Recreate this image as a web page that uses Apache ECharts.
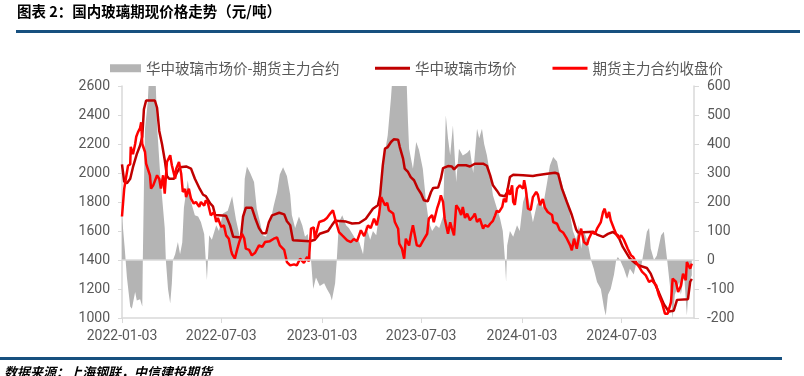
<!DOCTYPE html>
<html>
<head>
<meta charset="utf-8">
<script src="https://cdn.jsdelivr.net/npm/echarts@6/dist/echarts.min.js"></script>
<style>
  html, body { margin: 0; padding: 0; background: #fff; }
  #chart { width: 804px; height: 376px; }
</style>
</head>
<body>
<div id="chart"></div>
<script>
// 横轴用“距 2022-01-03 的天数”
const xTickDays = [0, 181, 365, 546, 730, 912]
const xTickLabels = ['2022-01-03', '2022-07-03', '2023-01-03', '2023-07-03', '2024-01-03', '2024-07-03']

// 华中玻璃市场价（左轴）
const spotDay = [0, 4, 9, 15, 20, 27, 33, 37, 40, 44, 60, 64, 68, 73, 78, 82, 86, 95, 100, 106, 117, 126, 133, 142, 148, 153, 161, 166, 170, 190, 197, 203, 217, 221, 226, 237, 243, 250, 256, 263, 268, 274, 287, 296, 301, 307, 312, 343, 352, 361, 376, 383, 389, 409, 420, 433, 445, 458, 467, 471, 476, 480, 485, 491, 496, 504, 507, 513, 516, 522, 527, 533, 540, 546, 551, 558, 564, 568, 577, 582, 586, 595, 602, 606, 613, 628, 635, 644, 659, 666, 672, 677, 684, 690, 699, 703, 708, 714, 732, 750, 757, 776, 790, 796, 803, 812, 821, 829, 832, 860, 867, 878, 887, 896, 905, 914, 927, 936, 945, 958, 965, 971, 980, 989, 998, 1007, 1013, 1033, 1037, 1040]
const spotPrice = [2060, 1940, 1930, 1960, 2040, 2130, 2190, 2250, 2440, 2500, 2500, 2450, 2290, 2200, 2090, 1980, 1960, 1960, 2000, 2040, 2045, 2030, 1960, 1890, 1850, 1840, 1790, 1770, 1710, 1705, 1640, 1560, 1555, 1700, 1760, 1760, 1690, 1620, 1585, 1585, 1660, 1708, 1726, 1715, 1667, 1640, 1536, 1529, 1540, 1581, 1600, 1639, 1670, 1665, 1652, 1655, 1685, 1754, 1777, 1846, 2053, 2168, 2179, 2214, 2232, 2230, 2179, 2099, 2030, 2007, 1972, 1950, 1892, 1857, 1812, 1805, 1869, 1897, 1900, 1961, 2034, 2048, 2045, 2025, 2053, 2053, 2045, 2064, 2064, 2050, 1984, 1915, 1880, 1846, 1840, 1869, 1972, 1988, 1985, 1980, 1985, 1995, 2002, 1995, 1892, 1800, 1710, 1610, 1590, 1595, 1575, 1559, 1580, 1593, 1570, 1490, 1410, 1380, 1360, 1345, 1306, 1250, 1175, 1095, 1045, 1050, 1125, 1130, 1250, 1270]

// 期货主力合约收盘价（左轴）
const futDay = [0, 4, 7, 11, 15, 16, 20, 24, 26, 29, 33, 35, 37, 42, 44, 51, 53, 57, 60, 64, 68, 71, 75, 78, 82, 88, 91, 97, 99, 104, 108, 111, 115, 117, 122, 126, 131, 135, 141, 144, 150, 153, 157, 162, 168, 172, 175, 181, 186, 190, 195, 199, 201, 206, 210, 214, 219, 223, 226, 232, 237, 243, 250, 256, 261, 270, 277, 283, 288, 296, 301, 307, 314, 319, 325, 332, 338, 341, 345, 350, 352, 360, 369, 374, 380, 385, 389, 396, 402, 411, 418, 423, 429, 436, 442, 449, 454, 460, 465, 469, 473, 476, 480, 484, 487, 495, 498, 504, 506, 511, 515, 518, 524, 527, 531, 533, 538, 544, 549, 557, 560, 566, 569, 575, 579, 582, 586, 589, 595, 599, 602, 606, 610, 615, 619, 622, 626, 630, 635, 641, 644, 648, 653, 659, 662, 668, 672, 677, 681, 684, 688, 694, 697, 701, 704, 708, 712, 714, 717, 721, 726, 732, 734, 737, 741, 746, 750, 756, 759, 763, 768, 772, 777, 785, 787, 794, 799, 805, 812, 818, 821, 825, 830, 834, 838, 843, 849, 852, 858, 863, 867, 874, 878, 881, 885, 889, 892, 898, 903, 907, 911, 916, 920, 923, 929, 933, 938, 944, 949, 956, 962, 967, 975, 980, 986, 991, 996, 1002, 1005, 1011, 1015, 1020, 1024, 1029, 1031, 1037, 1040]
const futPrice = [1700, 1890, 1960, 2050, 2060, 2180, 2130, 2200, 2250, 2280, 2310, 2350, 2200, 2145, 2064, 1984, 1892, 1915, 1905, 1984, 1960, 1892, 1984, 1857, 2076, 2122, 2053, 1961, 2030, 2076, 1995, 1869, 1890, 1834, 1892, 1823, 1789, 1800, 1766, 1800, 1775, 1812, 1790, 1708, 1731, 1662, 1690, 1628, 1640, 1570, 1547, 1467, 1440, 1409, 1470, 1524, 1581, 1550, 1478, 1470, 1432, 1450, 1501, 1490, 1524, 1530, 1547, 1555, 1501, 1470, 1386, 1363, 1370, 1363, 1409, 1380, 1421, 1390, 1616, 1625, 1547, 1662, 1674, 1690, 1720, 1743, 1685, 1593, 1570, 1536, 1524, 1545, 1530, 1605, 1565, 1639, 1620, 1685, 1640, 1708, 1834, 1846, 1777, 1795, 1743, 1720, 1662, 1616, 1513, 1478, 1409, 1547, 1500, 1570, 1639, 1600, 1501, 1495, 1530, 1581, 1685, 1710, 1660, 1754, 1800, 1846, 1800, 1685, 1581, 1660, 1620, 1570, 1777, 1750, 1710, 1766, 1690, 1720, 1674, 1700, 1720, 1662, 1685, 1616, 1640, 1630, 1650, 1670, 1708, 1740, 1730, 1766, 1823, 1800, 1892, 1850, 1915, 1800, 1780, 1892, 1915, 1892, 1950, 1890, 1754, 1745, 1834, 1869, 1850, 1777, 1820, 1760, 1731, 1710, 1662, 1650, 1605, 1590, 1547, 1501, 1467, 1547, 1478, 1560, 1616, 1524, 1505, 1547, 1593, 1580, 1616, 1662, 1731, 1754, 1690, 1731, 1674, 1616, 1570, 1550, 1570, 1540, 1505, 1478, 1432, 1420, 1386, 1352, 1320, 1294, 1248, 1260, 1225, 1156, 1099, 1030, 1030, 1110, 1271, 1250, 1179, 1220, 1306, 1260, 1386, 1340, 1375]

// 华中玻璃市场价-期货主力合约（右轴）
const spreadDay = [0, 5, 9, 15, 18, 24, 27, 33, 37, 38, 40, 42, 47, 51, 60, 64, 69, 73, 78, 80, 84, 88, 91, 93, 97, 102, 106, 110, 113, 120, 126, 133, 139, 144, 150, 155, 159, 164, 172, 177, 184, 193, 201, 208, 215, 221, 224, 228, 234, 241, 246, 252, 257, 263, 270, 277, 283, 288, 294, 301, 307, 310, 316, 323, 329, 334, 339, 345, 349, 354, 361, 369, 374, 380, 383, 389, 392, 396, 402, 409, 414, 422, 427, 433, 440, 445, 453, 458, 464, 469, 476, 485, 491, 496, 518, 522, 524, 531, 537, 542, 549, 555, 560, 566, 573, 579, 586, 591, 595, 599, 604, 610, 615, 622, 630, 635, 641, 648, 652, 657, 661, 666, 672, 677, 684, 690, 695, 699, 701, 703, 708, 714, 721, 726, 732, 739, 745, 750, 757, 763, 768, 776, 781, 787, 794, 799, 805, 812, 818, 823, 829, 834, 838, 843, 849, 856, 861, 867, 874, 880, 883, 887, 892, 898, 902, 905, 909, 916, 922, 927, 934, 940, 947, 953, 958, 962, 965, 971, 976, 984, 989, 995, 1002, 1005, 1009, 1017, 1020, 1026, 1031, 1035, 1040]
const spreadVal = [150, 40, -60, -160, -168, -110, -140, -135, -160, 0, 250, 453, 545, 700, 700, 464, 315, 220, 110, 0, -100, -150, -80, 0, 20, 62, 20, 60, 180, 275, 200, 154, 150, 131, 90, -70, 85, 70, 120, 100, 160, 170, 220, 140, 80, 110, 280, 322, 300, 269, 177, 130, 85, 80, 126, 188, 234, 295, 320, 290, 225, 155, 110, 150, 120, 80, 90, 0, -100, -60, -90, -80, -100, -120, -140, -80, 0, 131, 154, 120, 110, 85, 70, 62, 20, 120, 70, 100, 85, 154, 326, 430, 560, 700, 700, 476, 384, 315, 407, 380, 315, 200, 131, 100, 120, 110, 150, 499, 420, 361, 464, 269, 384, 360, 370, 380, 300, 453, 420, 453, 400, 361, 292, 223, 180, 143, 100, 0, -76, 50, 100, 80, 120, 100, 200, 240, 180, 130, 190, 210, 180, 269, 326, 355, 340, 292, 250, 211, 154, 100, 70, 120, 39, 100, 70, 0, -30, -76, -100, -168, -191, -120, -100, -50, 0, 10, 0, -30, -64, -30, -50, 0, -30, 39, 97, 110, 40, 0, 15, 85, 97, 0, -122, -202, -120, -76, -120, -53, -191, -76, -53]

const spreadName = '华中玻璃市场价-期货主力合约'
const spotName = '华中玻璃市场价'
const futName = '期货主力合约收盘价'

const pairs = (days, vals) => days.map((d, i) => [d, vals[i]])

const labelColor = '#595959'
const axisColor = '#d9d9d9'
const cjkFont = '"Noto Sans CJK SC", sans-serif'
const legendText = { color: labelColor, fontSize: 14.5, fontFamily: cjkFont }

const chart = echarts.init(document.getElementById('chart'))

chart.setOption({
  animation: false,
  textStyle: { fontFamily: 'Roboto, "Noto Sans CJK SC", sans-serif' },
  graphic: [
    {
      type: 'text', left: 17, top: 4,
      style: { text: '图表 2：国内玻璃期现价格走势（元/吨）', fill: '#000', font: 'bold 14.5px "Noto Sans CJK SC", sans-serif' }
    },
    { type: 'rect', shape: { x: 16, y: 30, width: 784, height: 3 }, style: { fill: '#17507f' } },
    { type: 'rect', shape: { x: 0, y: 357, width: 782, height: 3 }, style: { fill: '#17507f' } },
    {
      type: 'text', left: 4, top: 366,
      style: { text: '数据来源：上海钢联，中信建投期货', fill: '#000', font: 'italic bold 13px "Noto Sans CJK SC", sans-serif' }
    }
  ],
  // 两个图例：灰色面积块和两条线的图标高度不同
  legend: [
    {
      left: 105, top: 56,
      itemWidth: 31, itemHeight: 8,
      textStyle: legendText,
      data: [{ name: spreadName, icon: 'rect' }]
    },
    {
      left: 370, top: 56,
      itemWidth: 35, itemHeight: 3,
      itemGap: 36,
      textStyle: legendText,
      data: [{ name: spotName, icon: 'rect' }, { name: futName, icon: 'rect' }]
    }
  ],
  grid: { left: 122, right: 110, top: 86, bottom: 58 },
  xAxis: {
    type: 'value',
    min: 0,
    max: 1044,
    splitLine: { show: false },
    axisLine: { onZero: false, lineStyle: { color: axisColor, width: 1.5 } },
    axisTick: { customValues: xTickDays, length: 5, lineStyle: { color: axisColor } },
    axisLabel: {
      customValues: xTickDays,
      margin: 12,
      color: labelColor,
      fontSize: 14,
      formatter: v => xTickLabels[xTickDays.indexOf(v)]
    }
  },
  yAxis: [
    {
      type: 'value', min: 1000, max: 2600, interval: 200,
      splitLine: { show: false },
      axisLine: { show: true, lineStyle: { color: axisColor, width: 1.5 } },
      axisTick: { show: true, length: 4, lineStyle: { color: axisColor } },
      axisLabel: { color: labelColor, fontSize: 14, margin: 12, formatter: v => String(v) }
    },
    {
      type: 'value', min: -200, max: 600, interval: 100,
      splitLine: { show: false },
      axisLine: { show: true, lineStyle: { color: axisColor, width: 1.5 } },
      axisTick: { show: true, length: 5, lineStyle: { color: axisColor } },
      axisLabel: { color: labelColor, fontSize: 14, margin: 13, formatter: v => String(v) }
    }
  ],
  series: [
    {
      name: spreadName,
      type: 'line',
      yAxisIndex: 1,
      data: pairs(spreadDay, spreadVal),
      symbol: 'none',
      color: '#b4b4b4',
      lineStyle: { width: 0 },
      areaStyle: { color: '#b4b4b4', opacity: 1 },
      markLine: {
        silent: true,
        symbol: 'none',
        label: { show: false },
        lineStyle: { color: axisColor, width: 1.5, type: 'solid' },
        data: [{ yAxis: 0 }]
      }
    },
    {
      name: spotName,
      type: 'line',
      data: pairs(spotDay, spotPrice),
      symbol: 'none',
      color: '#c00000',
      lineStyle: { width: 2.5, color: '#c00000' }
    },
    {
      name: futName,
      type: 'line',
      data: pairs(futDay, futPrice),
      symbol: 'none',
      color: '#ff0000',
      lineStyle: { width: 2.5, color: '#ff0000' }
    }
  ]
})
</script>
</body>
</html>
